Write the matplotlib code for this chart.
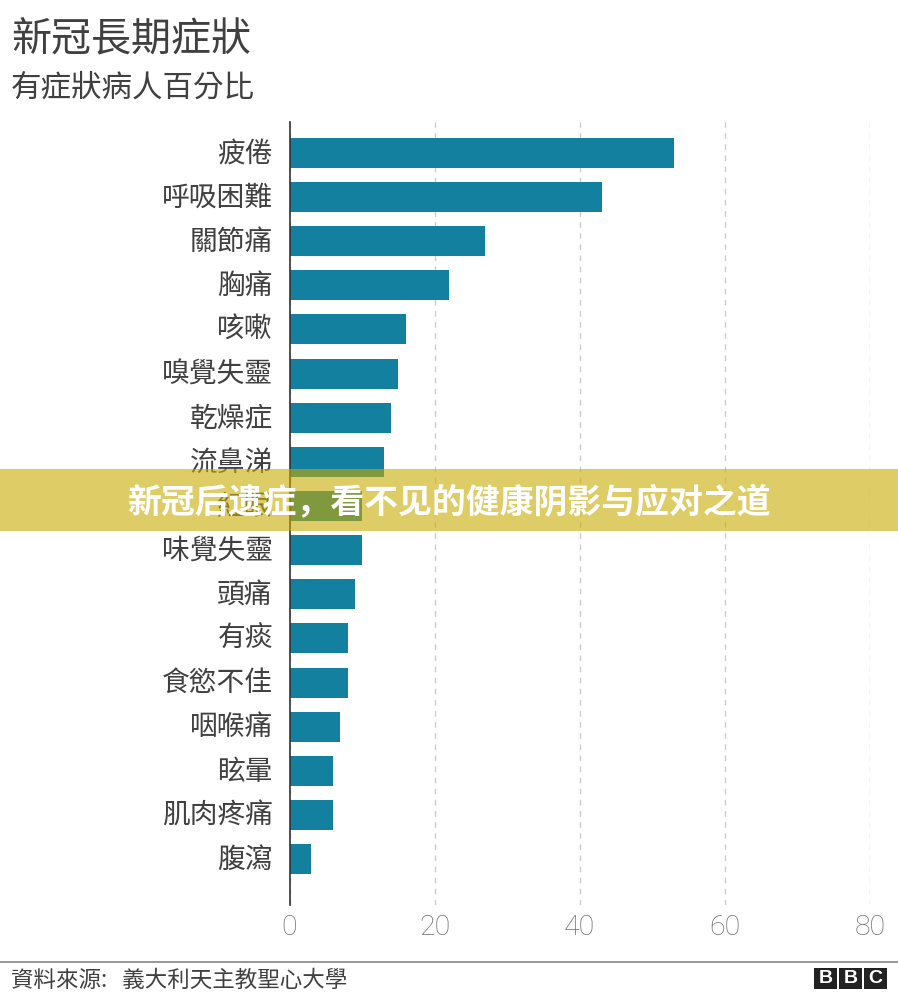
import matplotlib
matplotlib.use("Agg")
import matplotlib.pyplot as plt
from matplotlib.patches import Rectangle
from matplotlib.transforms import ScaledTranslation

plt.rcParams['font.family'] = ['Noto Sans CJK TC', 'DejaVu Sans']

# Data
symptoms = ["疲倦", "呼吸困難", "關節痛", "胸痛", "咳嗽", "嗅覺失靈", "乾燥症", "流鼻涕", "紅眼",
            "味覺失靈", "頭痛", "有痰", "食慾不佳", "咽喉痛", "眩暈", "肌肉疼痛", "腹瀉"]
percent = [53, 43, 27, 22, 16, 15, 14, 13, 10, 10, 9, 8, 8, 7, 6, 6, 3]
x_ticks = [0, 20, 40, 60, 80]

W, H = 898, 1000


def fx(px):
    return px / W


def fy(px):
    return 1 - px / H


fig = plt.figure(figsize=(W / 100, H / 100), dpi=100, facecolor="white")

# Axes placed so that 0 and 80 land on the reference pixels
ax = fig.add_axes([fx(289.5), fy(905), (870 - 289.5) / W, (905 - 122) / H])
ax.barh(range(len(symptoms)), percent, height=0.68, color="#14809f", zorder=3)
ax.set_xlim(0, 80)
ax.set_ylim(17.04, -0.70)

ax.set_yticks(range(len(symptoms)))
ax.set_yticklabels(symptoms, fontsize=20, color="#404040")
ax.tick_params(axis="y", length=0, pad=12)
# CJK glyphs sit low in their box, lift the labels a little
lift = ScaledTranslation(0, 2.0 / 72, fig.dpi_scale_trans)
for label in ax.get_yticklabels():
    label.set_transform(label.get_transform() + lift)

ax.set_xticks(x_ticks)
ax.set_xticklabels(x_ticks, fontsize=20.5, color="#6e6e6e", family="Roboto", fontweight="light")
ax.tick_params(axis="x", length=0, pad=6.5)

ax.grid(axis="x", color="#cccccc", linestyle=(0, (4, 4)), linewidth=1, zorder=0)
for side in ["top", "right", "bottom"]:
    ax.spines[side].set_visible(False)
ax.spines["left"].set_color("#333333")
ax.spines["left"].set_linewidth(1.2)
ax.spines["left"].set_zorder(4)

# Titles
fig.text(fx(11), fy(40), "新冠長期症狀", fontsize=28.8, color="#404040", va="center", ha="left")
fig.text(fx(11), fy(88), "有症狀病人百分比", fontsize=22, color="#404040", va="center", ha="left")

# Footer
fig.add_artist(Rectangle((0, fy(963)), 1, 2 / H, transform=fig.transFigure, color="#999999", lw=0))
fig.text(fx(11), fy(980), "資料來源:   義大利天主教聖心大學", fontsize=16.2, color="#404040", va="center", ha="left")

# BBC blocks
for i, letter in enumerate("BBC"):
    left = 814 + i * 25
    fig.add_artist(Rectangle((fx(left), fy(989)), 23 / W, 21 / H, transform=fig.transFigure,
                             color="#222222", lw=0))
    fig.text(fx(left + 11.5), fy(978.5), letter, fontsize=14, color="white", fontweight="bold",
             family="Liberation Sans", va="center", ha="center")

# Banner across the chart
fig.add_artist(Rectangle((0, fy(531)), 1, 62 / H, transform=fig.transFigure,
                         facecolor="#c9aa00", alpha=0.6, lw=0, zorder=10))
fig.text(fx(449), fy(503), "新冠后遗症\uff0c看不见的健康阴影与应对之道", fontsize=24.4, color="white",
         fontweight="bold", family=["Noto Sans CJK SC", "DejaVu Sans"], va="center", ha="center", zorder=11)

fig.savefig("out.png", dpi=100, facecolor="white")
